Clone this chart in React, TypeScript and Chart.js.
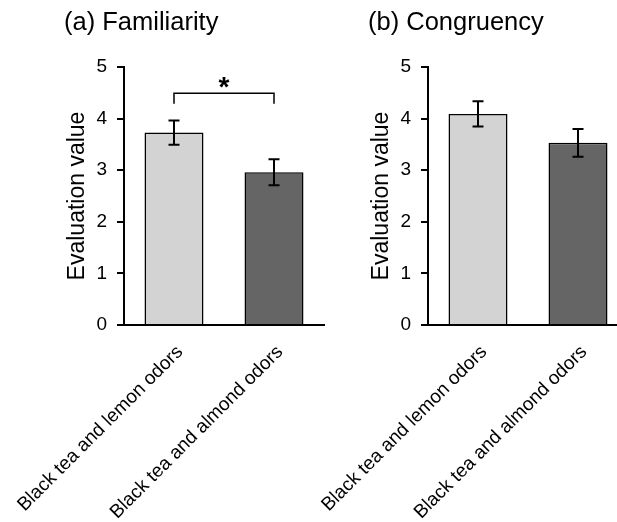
import React, { useEffect, useRef } from 'react';
import { Chart, registerables } from 'chart.js';

Chart.register(...registerables);

// ---- data ----
const categories = ['Black tea and lemon odors', 'Black tea and almond odors'];
const familiarityMeans = [3.73, 2.96];
const familiarityErrors = [0.235, 0.25];
const congruencyMeans = [4.09, 3.53];
const congruencyErrors = [0.245, 0.27];
const barColors = ['#d3d3d3', '#656565'];
const yMin = 0;
const yMax = 5;
const yStep = 1;
const familiarityBracket = { top: 4.49, leg: 4.29, star: 4.66, label: '*' };

const FONT = "'Liberation Sans', Arial, Helvetica, sans-serif";

const errorBarPlugin = {
  id: 'errorBars',
  afterDatasetsDraw(chart: any, _args: any, opts: any) {
    const { ctx } = chart;
    const y = chart.scales.y;
    const meta = chart.getDatasetMeta(0);
    const values = chart.data.datasets[0].data as number[];
    ctx.save();
    ctx.strokeStyle = '#000';
    ctx.lineWidth = 2;
    const cap = 5.5;
    (opts.errors || []).forEach((e: number, i: number) => {
      const px = meta.data[i].x;
      const top = y.getPixelForValue(values[i] + e);
      const bot = y.getPixelForValue(values[i] - e);
      ctx.beginPath();
      ctx.moveTo(px, top);
      ctx.lineTo(px, bot);
      ctx.moveTo(px - cap, top);
      ctx.lineTo(px + cap, top);
      ctx.moveTo(px - cap, bot);
      ctx.lineTo(px + cap, bot);
      ctx.stroke();
    });
    const b = opts.bracket;
    if (b) {
      const x0 = meta.data[0].x;
      const x1 = meta.data[1].x;
      const yt = y.getPixelForValue(b.top);
      const yl = y.getPixelForValue(b.leg);
      ctx.lineWidth = 1.5;
      ctx.beginPath();
      ctx.moveTo(x0, yl);
      ctx.lineTo(x0, yt);
      ctx.lineTo(x1, yt);
      ctx.lineTo(x1, yl);
      ctx.stroke();
      ctx.fillStyle = '#000';
      ctx.font = `bold 28px ${FONT}`;
      ctx.textAlign = 'center';
      ctx.textBaseline = 'middle';
      ctx.fillText(b.label, (x0 + x1) / 2, y.getPixelForValue(b.star) + 4);
    }
    ctx.restore();
  },
};

type PanelProps = {
  title: string;
  means: number[];
  errors: number[];
  bracket?: any;
  left: number;
  width: number;
  padLeft: number;
  yAxisWidth: number;
};

function Panel({ title, means, errors, bracket, left, width, padLeft, yAxisWidth }: PanelProps) {
  const ref = useRef<HTMLCanvasElement>(null);
  useEffect(() => {
    if (!ref.current) return;
    const chart = new Chart(ref.current, {
      type: 'bar',
      data: {
        labels: categories,
        datasets: [
          {
            data: means,
            backgroundColor: barColors,
            borderColor: '#000',
            borderWidth: 1.5,
            categoryPercentage: 1,
            barPercentage: 0.59,
          },
        ],
      },
      options: {
        responsive: false,
        animation: false,
        layout: { padding: { left: padLeft, right: 8, top: 8, bottom: 0 } },
        plugins: {
          legend: { display: false },
          tooltip: { enabled: false },
          title: {
            display: true,
            text: title,
            align: 'start',
            color: '#000',
            font: { size: 25.5, weight: 'normal', family: FONT },
            padding: { top: 0, bottom: 28.4 },
          },
          errorBars: { errors, bracket },
        } as any,
        scales: {
          x: {
            grid: { display: false },
            border: { display: true, color: '#000', width: 2 },
            ticks: {
              color: '#000',
              font: { size: 19, family: FONT },
              minRotation: 45,
              maxRotation: 45,
              autoSkip: false,
              padding: 8,
              labelOffset: 6,
            },
            afterFit: (s: any) => {
              s.height = 197;
              s.paddingLeft = 0;
              s.paddingRight = 0;
            },
          },
          y: {
            min: yMin,
            max: yMax,
            ticks: {
              stepSize: yStep,
              color: '#000',
              font: { size: 19, family: FONT },
              padding: 10,
            },
            grid: {
              display: true,
              drawOnChartArea: false,
              drawTicks: true,
              tickLength: 7,
              color: '#000',
              lineWidth: 2,
            },
            border: { display: true, color: '#000', width: 2 },
            title: {
              display: true,
              text: 'Evaluation value',
              color: '#000',
              font: { size: 23, family: FONT },
              padding: 0,
            },
            afterFit: (s: any) => {
              s.width = yAxisWidth;
            },
          },
        },
      },
      plugins: [errorBarPlugin],
    });
    return () => chart.destroy();
  }, []);
  return (
    <canvas
      ref={ref}
      width={width}
      height={522}
      style={{ position: 'absolute', left, top: 0, display: 'block' }}
    />
  );
}

export default function App() {
  return (
    <div
      style={{
        position: 'fixed',
        left: 0,
        top: 0,
        width: 617,
        height: 522,
        overflow: 'hidden',
        background: '#fff',
      }}
    >
      <Panel
        title="(a) Familiarity"
        means={familiarityMeans}
        errors={familiarityErrors}
        bracket={familiarityBracket}
        left={0}
        width={332}
        padLeft={64}
        yAxisWidth={60}
      />
      <Panel
        title="(b) Congruency"
        means={congruencyMeans}
        errors={congruencyErrors}
        left={310}
        width={326}
        padLeft={58}
        yAxisWidth={60}
      />
    </div>
  );
}
